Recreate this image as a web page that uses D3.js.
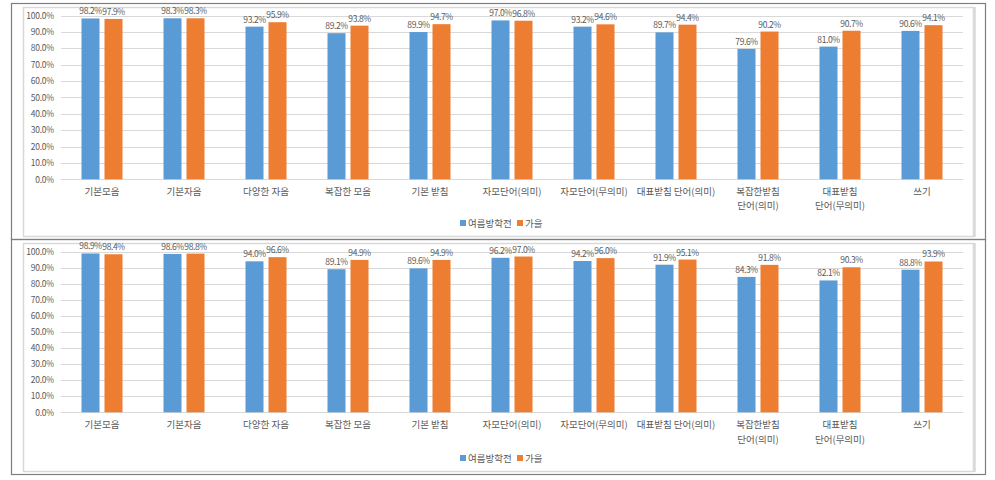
<!DOCTYPE html>
<html>
<head>
<meta charset="utf-8">
<script src="https://cdn.jsdelivr.net/npm/d3@7"></script>
<style>
  body { margin: 0; background: #fff; }
  svg { display: block; font-family: "Noto Sans CJK KR", "Noto Sans", sans-serif; }
</style>
</head>
<body>
<div id="chart"></div>
<script>
// categories (multi-line labels as arrays)
const categories = [
    ['기본모음'], ['기본자음'], ['다양한 자음'], ['복잡한 모음'], ['기본 받침'],
    ['자모단어(의미)'], ['자모단어(무의미)'], ['대표받침 단어(의미)'],
    ['복잡한받침', '단어(의미)'], ['대표받침', '단어(무의미)'], ['쓰기']
];
const seriesNames = ['여름방학전', '가을'];
const seriesColors = ['#5B9BD5', '#ED7D31'];
const yTicks = [0, 10, 20, 30, 40, 50, 60, 70, 80, 90, 100];

// top chart
const topSummer = [98.2, 98.3, 93.2, 89.2, 89.9, 97.0, 93.2, 89.7, 79.6, 81.0, 90.6];
const topFall   = [97.9, 98.3, 95.9, 93.8, 94.7, 96.8, 94.6, 94.4, 90.2, 90.7, 94.1];
// bottom chart
const botSummer = [98.9, 98.6, 94.0, 89.1, 89.6, 96.2, 94.2, 91.9, 84.3, 82.1, 88.8];
const botFall   = [98.4, 98.8, 96.6, 94.9, 94.9, 97.0, 96.0, 95.1, 91.8, 90.3, 93.9];

const width = 995, height = 480;

const svg = d3.select('#chart').append('svg')
    .attr('width', width)
    .attr('height', height);

svg.append('rect').attr('width', width).attr('height', height).attr('fill', '#fff');

function drawPanel(frame, summer, fall) {
    // outer frame
    svg.append('rect')
        .attr('x', 11.5).attr('y', frame.top + 0.5)
        .attr('width', 974).attr('height', frame.bottom - frame.top)
        .attr('fill', 'none').attr('stroke', '#7f7f7f').attr('stroke-width', 1.2);
    // chart area
    svg.append('rect')
        .attr('x', 23.5).attr('y', frame.innerTop + 0.5)
        .attr('width', 950).attr('height', frame.innerBottom - frame.innerTop)
        .attr('fill', '#fff').attr('stroke', '#d9d9d9').attr('stroke-width', 1.5);
    svg.append('line')
        .attr('x1', 974.5).attr('x2', 974.5)
        .attr('y1', frame.innerTop).attr('y2', frame.innerBottom + 1)
        .attr('stroke', '#d9d9d9').attr('stroke-width', 2.5);

    const g = svg.append('g');

    const x0 = d3.scaleBand()
        .domain(d3.range(categories.length))
        .range([61, 963])
        .padding(0);
    const bw = x0.bandwidth();
    const x1 = d3.scaleBand()
        .domain(seriesNames)
        .range([bw * 0.25, bw * 0.75])
        .paddingInner(5 / 23);
    const y = d3.scaleLinear()
        .domain([0, 100])
        .range([frame.y0, frame.y100]);

    // gridlines
    g.append('g').selectAll('line')
        .data(yTicks)
        .enter().append('line')
        .attr('x1', 61).attr('x2', 963)
        .attr('y1', d => Math.round(y(d)) + 0.5)
        .attr('y2', d => Math.round(y(d)) + 0.5)
        .attr('stroke', '#d9d9d9').attr('stroke-width', 1);

    // y axis labels
    const yAxis = d3.axisLeft(y)
        .tickValues(yTicks)
        .tickSize(0)
        .tickPadding(0)
        .tickFormat(d => d.toFixed(1) + '%');
    g.append('g')
        .attr('transform', 'translate(54,0)')
        .call(yAxis)
        .call(a => a.select('.domain').remove())
        .call(a => a.selectAll('text')
            .attr('fill', '#595959')
            .attr('font-size', '8.5px')
            .attr('letter-spacing', '-0.2px')
            .attr('font-family', '"Noto Sans CJK KR", sans-serif'));

    const data = categories.map((c, i) => ({ i: i, vals: [summer[i], fall[i]] }));

    const groups = g.append('g').selectAll('g')
        .data(data)
        .enter().append('g')
        .attr('transform', d => `translate(${x0(d.i)},0)`);

    groups.selectAll('rect')
        .data(d => d.vals.map((v, k) => ({ name: seriesNames[k], v: v, k: k })))
        .enter().append('rect')
        .attr('x', d => x1(d.name))
        .attr('width', x1.bandwidth())
        .attr('y', d => y(d.v))
        .attr('height', d => y(0) - y(d.v))
        .attr('fill', d => seriesColors[d.k]);

    groups.selectAll('text.val')
        .data(d => d.vals.map((v, k) => ({ name: seriesNames[k], v: v })))
        .enter().append('text')
        .attr('class', 'val')
        .attr('x', d => x1(d.name) + x1.bandwidth() / 2)
        .attr('y', d => y(d.v) - 4)
        .attr('text-anchor', 'middle')
        .attr('font-size', '8.5px')
        .attr('letter-spacing', '-0.4px')
        .attr('fill', '#595959')
        .text(d => d.v.toFixed(1) + '%');

    // x labels
    const xl = g.append('g').selectAll('text')
        .data(categories)
        .enter().append('text')
        .attr('x', (d, i) => x0(i) + bw / 2)
        .attr('y', frame.xLabel)
        .attr('text-anchor', 'middle')
        .attr('font-size', '9.5px')
        .attr('fill', '#595959');
    xl.selectAll('tspan')
        .data(d => d)
        .enter().append('tspan')
        .attr('x', function() { return d3.select(this.parentNode).attr('x'); })
        .attr('dy', (d, i) => i === 0 ? 0 : frame.lineGap)
        .text(d => d);

    // legend
    const legend = g.append('g')
        .attr('transform', `translate(0,${frame.legend})`);
    const legendX = [460, 517];
    seriesNames.forEach((name, k) => {
        legend.append('rect')
            .attr('x', legendX[k]).attr('y', -3)
            .attr('width', 6).attr('height', 6)
            .attr('fill', seriesColors[k]);
        legend.append('text')
            .attr('x', legendX[k] + 8).attr('y', 3.5)
            .attr('font-size', '9.5px')
            .attr('fill', '#595959')
            .text(name);
    });
}

drawPanel({ top: 3, bottom: 239, innerTop: 7, innerBottom: 236,
            y0: 179.3, y100: 15.5, xLabel: 195, lineGap: 14, legend: 223 },
          topSummer, topFall);
drawPanel({ top: 239, bottom: 474, innerTop: 243, innerBottom: 471,
            y0: 412.3, y100: 251.7, xLabel: 427.5, lineGap: 15.5, legend: 458 },
          botSummer, botFall);
</script>
</body>
</html>
